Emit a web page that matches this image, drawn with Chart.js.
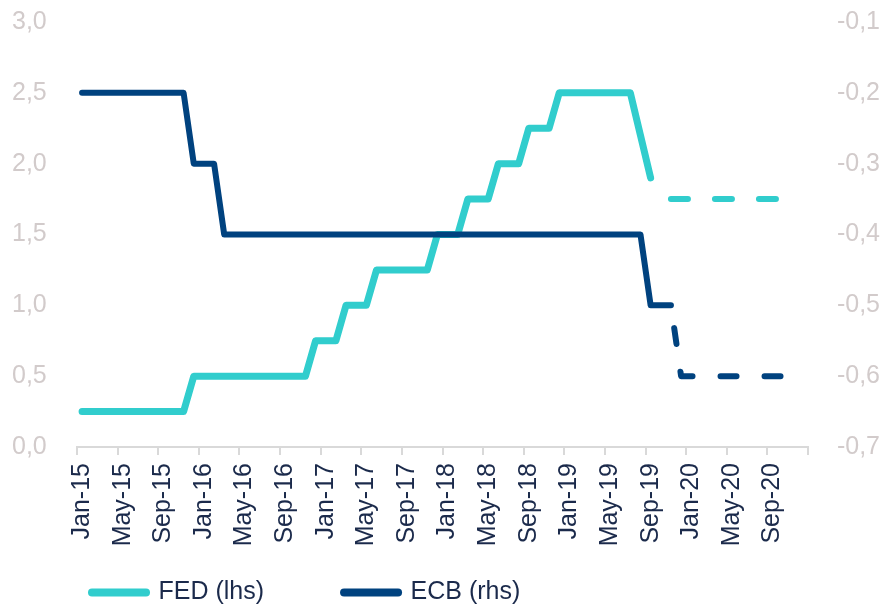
<!DOCTYPE html>
<html>
<head>
<meta charset="utf-8">
<script src="https://cdn.jsdelivr.net/npm/chart.js@4.4.1/dist/chart.umd.min.js"></script>
<style>
  html, body { margin: 0; padding: 0; background: #ffffff; overflow: hidden; }
  #wrap { width: 882px; height: 604px; overflow: hidden; position: relative; }
  canvas { display: block; }
</style>
</head>
<body>
<div id="wrap"><canvas id="c" width="882" height="672"></canvas></div>
<script>
// ---- Data ----
const months = [
  'Jan-15','Feb-15','Mar-15','Apr-15','May-15','Jun-15','Jul-15','Aug-15','Sep-15','Oct-15','Nov-15','Dec-15',
  'Jan-16','Feb-16','Mar-16','Apr-16','May-16','Jun-16','Jul-16','Aug-16','Sep-16','Oct-16','Nov-16','Dec-16',
  'Jan-17','Feb-17','Mar-17','Apr-17','May-17','Jun-17','Jul-17','Aug-17','Sep-17','Oct-17','Nov-17','Dec-17',
  'Jan-18','Feb-18','Mar-18','Apr-18','May-18','Jun-18','Jul-18','Aug-18','Sep-18','Oct-18','Nov-18','Dec-18',
  'Jan-19','Feb-19','Mar-19','Apr-19','May-19','Jun-19','Jul-19','Aug-19','Sep-19','Oct-19','Nov-19','Dec-19',
  'Jan-20','Feb-20','Mar-20','Apr-20','May-20','Jun-20','Jul-20','Aug-20','Sep-20','Oct-20','Nov-20','Dec-20'
];

// FED (lhs), actual
const fedRate = [
  0.25,0.25,0.25,0.25,0.25,0.25,0.25,0.25,0.25,0.25,0.25,0.5,
  0.5,0.5,0.5,0.5,0.5,0.5,0.5,0.5,0.5,0.5,0.5,0.75,
  0.75,0.75,1.0,1.0,1.0,1.25,1.25,1.25,1.25,1.25,1.25,1.5,
  1.5,1.5,1.75,1.75,1.75,2.0,2.0,2.0,2.25,2.25,2.25,2.5,
  2.5,2.5,2.5,2.5,2.5,2.5,2.5,2.2,1.9,null,null,null,
  null,null,null,null,null,null,null,null,null,null,null,null
];
// FED (lhs), expected path (dashed)
const fedExpected = [
  null,null,null,null,null,null,null,null,null,null,null,null,
  null,null,null,null,null,null,null,null,null,null,null,null,
  null,null,null,null,null,null,null,null,null,null,null,null,
  null,null,null,null,null,null,null,null,null,null,null,null,
  null,null,null,null,null,null,null,null,null,null,1.75,1.75,
  1.75,1.75,1.75,1.75,1.75,1.75,1.75,1.75,1.75,1.75,1.75,1.75
];
// ECB (rhs), actual
const ecbRate = [
  -0.2,-0.2,-0.2,-0.2,-0.2,-0.2,-0.2,-0.2,-0.2,-0.2,-0.2,-0.3,
  -0.3,-0.3,-0.4,-0.4,-0.4,-0.4,-0.4,-0.4,-0.4,-0.4,-0.4,-0.4,
  -0.4,-0.4,-0.4,-0.4,-0.4,-0.4,-0.4,-0.4,-0.4,-0.4,-0.4,-0.4,
  -0.4,-0.4,-0.4,-0.4,-0.4,-0.4,-0.4,-0.4,-0.4,-0.4,-0.4,-0.4,
  -0.4,-0.4,-0.4,-0.4,-0.4,-0.4,-0.4,-0.4,-0.5,-0.5,-0.5,null,
  null,null,null,null,null,null,null,null,null,null,null,null
];
// ECB (rhs), expected path (dashed)
const ecbExpected = [
  null,null,null,null,null,null,null,null,null,null,null,null,
  null,null,null,null,null,null,null,null,null,null,null,null,
  null,null,null,null,null,null,null,null,null,null,null,null,
  null,null,null,null,null,null,null,null,null,null,null,null,
  null,null,null,null,null,null,null,null,null,null,-0.5,-0.6,
  -0.6,-0.6,-0.6,-0.6,-0.6,-0.6,-0.6,-0.6,-0.6,-0.6,-0.6,-0.6
];

const seriesNames = ['FED (lhs)', 'ECB (rhs)'];
const leftTicks = { min: 0, max: 3, step: 0.5 };
const rightTicks = { min: -0.7, max: -0.1, step: 0.1 };

// ---- Styles ----
const FED_COLOR = '#31cdcd';
const ECB_COLOR = '#00427f';
const FONT = "'Liberation Sans', Arial, sans-serif";
const AXIS_LABEL_COLOR = '#d2cbcb';
const DARK_TEXT = '#1b2a4b';
const AXIS_LINE = '#d9d9d9';
const LEGEND_TOP = 500;

const fmt = v => Number(v).toFixed(1).replace('.', ',');

// places the legend row just under the rotated month labels
const legendPlacer = {
  id: 'legendPlacer',
  afterLayout(chart) {
    const lg = chart.legend;
    if (!lg) return;
    const h = lg.height;
    lg.top = LEGEND_TOP;
    lg.bottom = LEGEND_TOP + h;
  }
};

new Chart(document.getElementById('c'), {
  type: 'line',
  plugins: [legendPlacer],
  data: {
    labels: months,
    datasets: [
      { label: seriesNames[0], data: fedRate, yAxisID: 'y', borderColor: FED_COLOR, backgroundColor: FED_COLOR,
        borderWidth: 7, borderCapStyle: 'round', borderJoinStyle: 'round', pointRadius: 0, tension: 0, order: 1 },
      { label: seriesNames[1], data: ecbRate, yAxisID: 'y1', borderColor: ECB_COLOR, backgroundColor: ECB_COLOR,
        borderWidth: 6, borderCapStyle: 'round', borderJoinStyle: 'round', pointRadius: 0, tension: 0, order: 0 },
      { label: 'FED forecast', data: fedExpected, yAxisID: 'y', borderColor: FED_COLOR, backgroundColor: FED_COLOR,
        borderWidth: 6, borderCapStyle: 'round', borderDash: [17, 27], pointRadius: 0, tension: 0, order: 1 },
      { label: 'ECB forecast', data: ecbExpected, yAxisID: 'y1', borderColor: ECB_COLOR, backgroundColor: ECB_COLOR,
        borderWidth: 6, borderCapStyle: 'round', borderJoinStyle: 'round', borderDash: [16, 28], borderDashOffset: 21,
        pointRadius: 0, tension: 0, order: 0 }
    ]
  },
  options: {
    responsive: false,
    animation: false,
    devicePixelRatio: 1,
    layout: { padding: { left: 12, top: 22, right: 2, bottom: 0 } },
    plugins: {
      tooltip: { enabled: false },
      legend: {
        position: 'bottom',
        align: 'start',
        labels: {
          usePointStyle: true,
          pointStyle: 'line',
          pointStyleWidth: 54,
          padding: 80,
          color: DARK_TEXT,
          font: { family: FONT, size: 25 },
          filter: item => item.datasetIndex < 2,
          sort: (a, b) => a.datasetIndex - b.datasetIndex,
          generateLabels: chart => {
            const items = Chart.defaults.plugins.legend.labels.generateLabels(chart);
            items.forEach(it => { it.lineWidth = 8; it.lineCap = 'round'; it.pointStyle = 'line'; });
            return items;
          }
        }
      }
    },
    scales: {
      x: {
        type: 'category',
        offset: true,
        grid: {
          display: true,
          offset: true,
          drawOnChartArea: false,
          drawTicks: true,
          tickLength: 8,
          lineWidth: 2,
          color: AXIS_LINE,
          tickColor: ctx => (ctx.index === undefined || ctx.index % 4 === 0) ? AXIS_LINE : 'rgba(0,0,0,0)'
        },
        border: { display: true, color: AXIS_LINE, width: 2 },
        ticks: {
          autoSkip: false,
          maxRotation: 90,
          minRotation: 90,
          padding: 8,
          color: DARK_TEXT,
          font: { family: FONT, size: 25 },
          callback: (val, idx) => (idx % 4 === 0 ? months[idx] : '')
        },
        afterFit: s => { s.height = 110; }
      },
      y: {
        position: 'left',
        min: leftTicks.min,
        max: leftTicks.max,
        grid: { display: false, drawTicks: false },
        border: { display: false },
        ticks: {
          stepSize: leftTicks.step,
          padding: 0,
          crossAlign: 'far',
          color: AXIS_LABEL_COLOR,
          font: { family: FONT, size: 25 },
          callback: v => fmt(v)
        },
        afterFit: s => { s.width = 65; }
      },
      y1: {
        position: 'right',
        min: rightTicks.min,
        max: rightTicks.max,
        grid: { display: false, drawTicks: false },
        border: { display: false },
        ticks: {
          stepSize: rightTicks.step,
          padding: 0,
          crossAlign: 'far',
          color: AXIS_LABEL_COLOR,
          font: { family: FONT, size: 25 },
          callback: v => fmt(v)
        },
        afterFit: s => { s.width = 72; }
      }
    }
  }
});
</script>
</body>
</html>
